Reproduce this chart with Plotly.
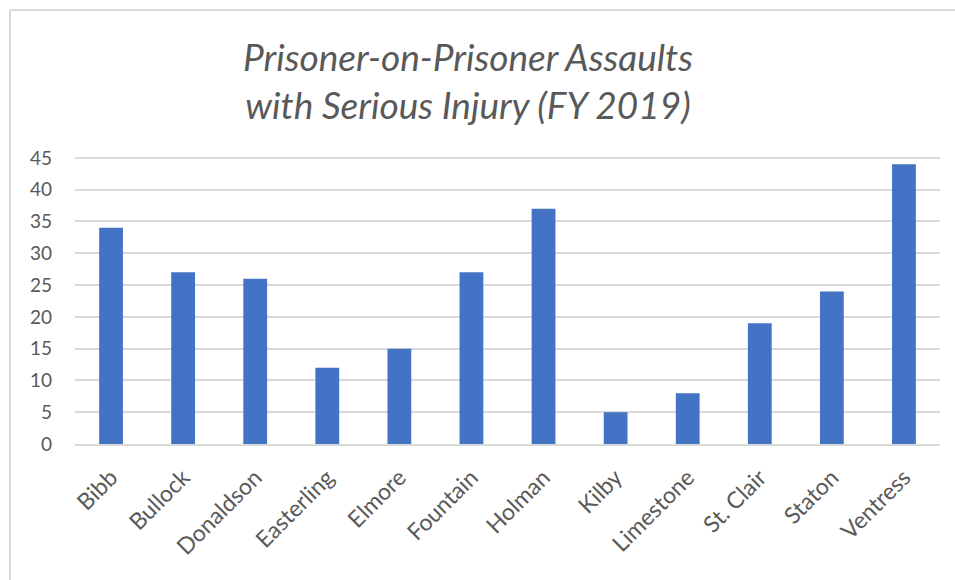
import plotly.graph_objects as go

# Facility names and assault counts
facilities = ['Bibb', 'Bullock', 'Donaldson', 'Easterling', 'Elmore', 'Fountain',
              'Holman', 'Kilby', 'Limestone', 'St. Clair', 'Staton', 'Ventress']
assaults = [34, 27, 26, 12, 15, 27, 37, 5, 8, 19, 24, 44]
y_ticks = [0, 5, 10, 15, 20, 25, 30, 35, 40, 45]

font_family = 'Lato, "Open Sans", sans-serif'
text_grey = '#595959'

fig = go.Figure()
fig.add_trace(go.Bar(
    x=facilities,
    y=assaults,
    marker_color='#4472C4',
    marker_line_width=0,
))

# plot area spans x 75..940, y 156..444 in the 955x580 window
plot_l, plot_r, plot_t, plot_b = 75, 940, 156, 444
pw, ph = plot_r - plot_l, plot_b - plot_t

def px_x(x):
    return (x - plot_l) / pw

def px_y(y):
    return (plot_b - y) / ph

fig.update_layout(
    width=955,
    height=580,
    margin=dict(l=plot_l, r=955 - plot_r, t=plot_t, b=580 - plot_b),
    paper_bgcolor='white',
    plot_bgcolor='white',
    showlegend=False,
    bargap=0.67,
    font=dict(family=font_family, color=text_grey, size=18),
    title=dict(
        text='<i>Prisoner-on-Prisoner Assaults<br>with Serious Injury (FY 2019)</i>',
        x=468 / 955,
        xref='container',
        xanchor='center',
        y=1 - 71 / 580,
        yanchor='middle',
        font=dict(family=font_family, size=37, color=text_grey),
    ),
    xaxis=dict(
        tickangle=-45,
        showgrid=False,
        showline=True,
        linecolor='#D9D9D9',
        linewidth=2,
        ticks='',
        ticklabelstandoff=9,
        tickfont=dict(size=23, color=text_grey),
    ),
    yaxis=dict(
        range=[0, 45.3],
        tickvals=y_ticks,
        showgrid=True,
        gridcolor='#D9D9D9',
        gridwidth=1.5,
        zeroline=False,
        showline=False,
        ticks='',
        ticklabelstandoff=22,
        tickfont=dict(size=19, color=text_grey),
    ),
    shapes=[
        # chart frame, only left and top edges are visible in the crop
        dict(type='line', xref='paper', yref='paper',
             x0=px_x(10), x1=px_x(10), y0=px_y(10), y1=px_y(585),
             line=dict(color='#D9D9D9', width=2)),
        dict(type='line', xref='paper', yref='paper',
             x0=px_x(10), x1=px_x(960), y0=px_y(10), y1=px_y(10),
             line=dict(color='#D9D9D9', width=2)),
    ],
)

fig.write_html("out.html", config={'displayModeBar': False},
               post_script="document.body.style.margin='0px';")
